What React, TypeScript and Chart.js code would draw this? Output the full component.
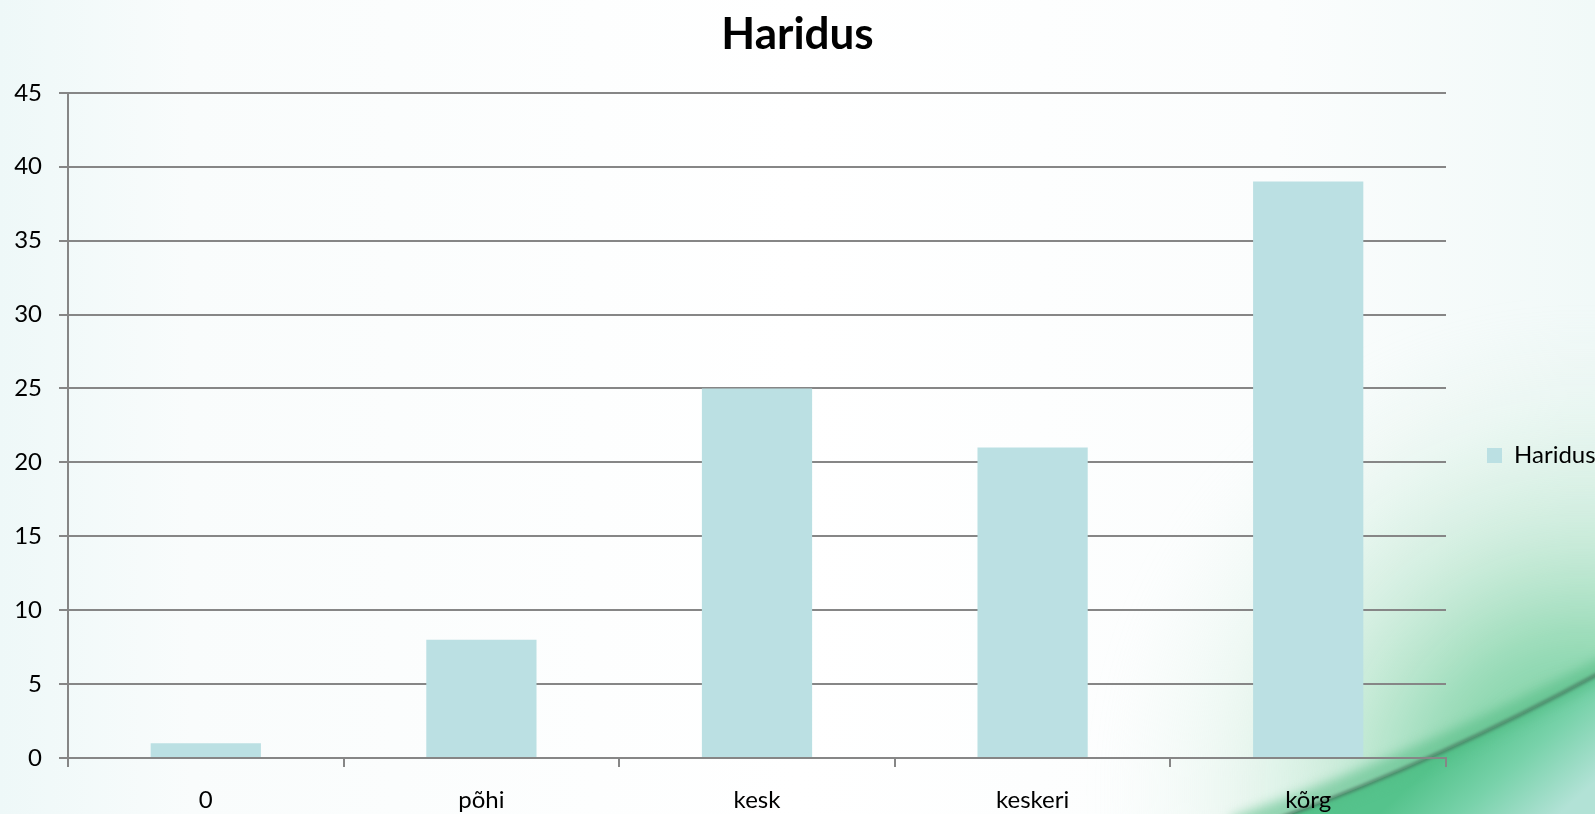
import { useEffect, useRef } from "react";
import { Chart, registerables } from "chart.js";

Chart.register(...registerables);

// Chart content
const chartTitle = "Haridus";
const seriesName = "Haridus";
const categories = ["0", "põhi", "kesk", "keskeri", "kõrg"];
const values = [1, 8, 25, 21, 39];
const yMin = 0;
const yMax = 45;
const yStep = 5;

const FONT = "Lato, 'Noto Sans', sans-serif";
const AXIS_GREY = "#868686";
const BAR_FILL = "#BBE0E3";

// Paints the pale slide wash and the green swoosh in the lower-right corner.
const backdropPlugin = {
  id: "backdrop",
  beforeDraw(chart: Chart) {
    const { ctx, width, height } = chart;
    ctx.save();

    const wash = ctx.createLinearGradient(0, 0, width, 0);
    wash.addColorStop(0, "#eef8f8");
    wash.addColorStop(0.12, "#f9fcfc");
    wash.addColorStop(0.5, "#ffffff");
    wash.addColorStop(0.8, "#fbfdfd");
    wash.addColorStop(1, "#f1f9f8");
    ctx.fillStyle = wash;
    ctx.fillRect(0, 0, width, height);

    const sx = width / 1595;
    const sy = height / 814;
    const P = (x: number, y: number): [number, number] => [x * sx, y * sy];

    // curve of the swoosh's dark centre stroke
    const lineStart = P(1280, 818);
    const lineCtrl = P(1440, 760);
    const lineEnd = P(1600, 673);

    // green haze above the stroke, strongest near the corner
    ctx.save();
    ctx.beginPath();
    ctx.moveTo(...lineStart);
    ctx.quadraticCurveTo(...lineCtrl, ...lineEnd);
    ctx.lineTo(...P(1640, 300));
    ctx.lineTo(...P(900, 300));
    ctx.lineTo(...P(900, 840));
    ctx.closePath();
    ctx.clip();
    ctx.filter = "blur(14px)";
    const haze = ctx.createRadialGradient(...P(1580, 790), 0, ...P(1580, 790), 480 * sx);
    haze.addColorStop(0, "rgba(95,200,145,0.95)");
    haze.addColorStop(0.3, "rgba(120,208,160,0.75)");
    haze.addColorStop(0.55, "rgba(165,222,190,0.45)");
    haze.addColorStop(0.8, "rgba(200,235,215,0.18)");
    haze.addColorStop(1, "rgba(220,240,230,0)");
    ctx.fillStyle = haze;
    ctx.fillRect(...P(900, 280), 760 * sx, 580 * sy);
    ctx.restore();

    // green-to-aqua area below the stroke
    ctx.save();
    ctx.beginPath();
    ctx.moveTo(...lineStart);
    ctx.quadraticCurveTo(...lineCtrl, ...lineEnd);
    ctx.lineTo(...P(1640, 673));
    ctx.lineTo(...P(1640, 850));
    ctx.lineTo(...P(1280, 850));
    ctx.closePath();
    ctx.clip();
    const lower = ctx.createLinearGradient(...P(1450, 750), ...P(1530, 840));
    lower.addColorStop(0, "rgba(85,195,140,1)");
    lower.addColorStop(0.45, "rgba(120,210,170,1)");
    lower.addColorStop(1, "rgba(178,226,214,1)");
    ctx.fillStyle = lower;
    ctx.fillRect(...P(1260, 640), 380 * sx, 220 * sy);
    ctx.restore();

    // soft band hugging the stroke
    ctx.filter = "blur(6px)";
    ctx.strokeStyle = "rgba(80,185,130,0.55)";
    ctx.lineWidth = 22;
    ctx.lineCap = "round";
    ctx.beginPath();
    ctx.moveTo(...P(1240, 826));
    ctx.quadraticCurveTo(...P(1430, 760), ...P(1620, 660));
    ctx.stroke();

    // thin dark stroke through the middle
    ctx.filter = "blur(1.5px)";
    ctx.strokeStyle = "rgba(70,120,95,0.75)";
    ctx.lineWidth = 4;
    ctx.beginPath();
    ctx.moveTo(...lineStart);
    ctx.quadraticCurveTo(...lineCtrl, ...lineEnd);
    ctx.stroke();

    ctx.filter = "none";
    ctx.restore();
  },
};

export default function App() {
  const canvasRef = useRef<HTMLCanvasElement | null>(null);

  useEffect(() => {
    const canvas = canvasRef.current;
    if (!canvas) return;

    const chart = new Chart(canvas, {
      type: "bar",
      data: {
        labels: categories,
        datasets: [
          {
            label: seriesName,
            data: values,
            backgroundColor: BAR_FILL,
            borderWidth: 0,
            categoryPercentage: 1,
            barPercentage: 0.4,
          },
        ],
      },
      options: {
        animation: false,
        responsive: true,
        maintainAspectRatio: false,
        layout: { padding: { left: 0, right: 0, top: 0, bottom: 0 } },
        plugins: {
          title: {
            display: true,
            text: chartTitle,
            color: "#000000",
            font: { family: FONT, size: 44, weight: "bold", lineHeight: 1.2 },
            padding: { top: 8, bottom: 32 },
          },
          legend: {
            position: "right",
            fullSize: false,
            maxWidth: 149,
            title: { display: true, text: "", padding: 0, font: { size: 50, lineHeight: 1.2 } },
            labels: {
              boxWidth: 15,
              boxHeight: 15,
              padding: 41,
              color: "#000000",
              font: { family: FONT, size: 24 },
            },
          },
          tooltip: { enabled: false },
        },
        scales: {
          x: {
            offset: true,
            afterFit: (scale: any) => {
              scale.height = 56;
            },
            grid: {
              display: true,
              drawOnChartArea: false,
              drawTicks: true,
              tickLength: 9,
              offset: true,
              color: AXIS_GREY,
              lineWidth: 2,
            },
            border: { display: true, color: AXIS_GREY, width: 2 },
            ticks: {
              color: "#000000",
              padding: 19,
              maxRotation: 0,
              font: { family: FONT, size: 24 },
            },
          },
          y: {
            min: yMin,
            max: yMax,
            afterFit: (scale: any) => {
              scale.width = 68;
            },
            grid: {
              color: AXIS_GREY,
              lineWidth: 2,
              tickLength: 9,
              drawTicks: true,
            },
            border: { display: true, color: AXIS_GREY, width: 2 },
            ticks: {
              stepSize: yStep,
              color: "#000000",
              padding: 17,
              font: { family: FONT, size: 24 },
            },
          },
        },
      },
      plugins: [backdropPlugin],
    });

    return () => chart.destroy();
  }, []);

  return (
    <div style={{ position: "fixed", left: 0, top: 0, width: "100vw", height: "100vh" }}>
      <canvas ref={canvasRef} />
    </div>
  );
}
